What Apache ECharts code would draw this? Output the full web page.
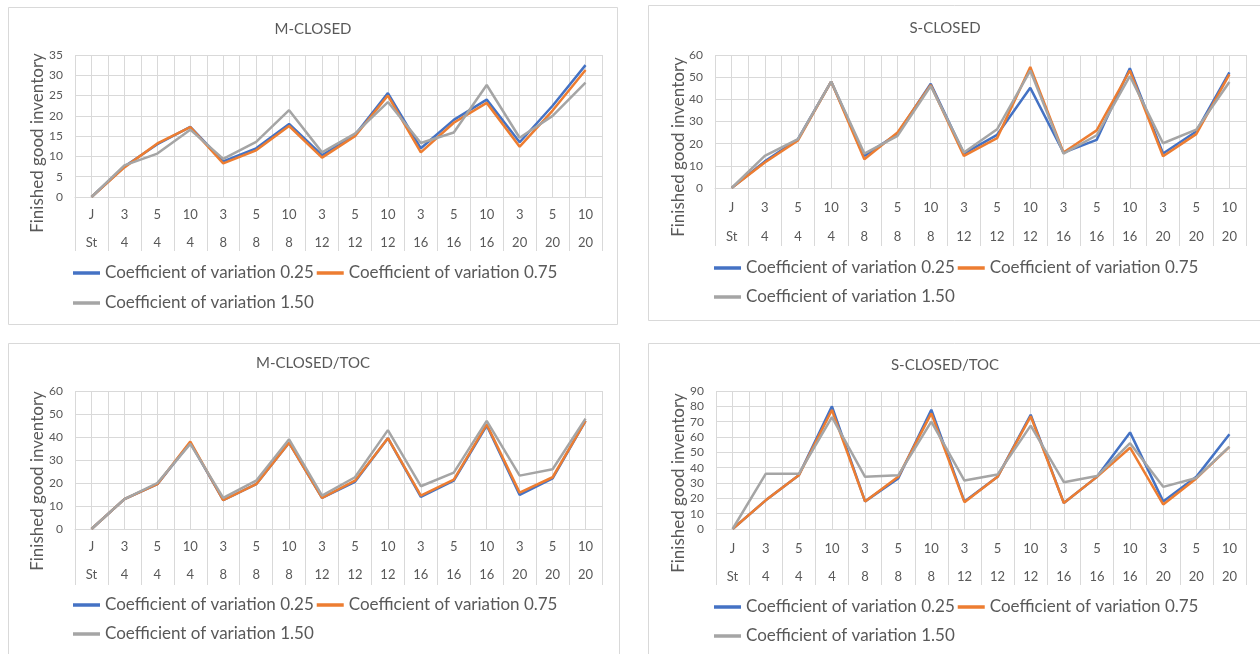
<!DOCTYPE html>
<html>
<head>
<meta charset="utf-8">
<script src="https://cdn.jsdelivr.net/npm/echarts@6/dist/echarts.min.js"></script>
<style>
html,body{margin:0;padding:0;background:#fff;}
#chart{width:1260px;height:654px;}
</style>
</head>
<body>
<div id="chart"></div>
<script>
// ---- data ----
const catTop = ['J','3','5','10','3','5','10','3','5','10','3','5','10','3','5','10'];
const catBottom = ['St','4','4','4','8','8','8','12','12','12','16','16','16','20','20','20'];
const seriesNames = ['Coefficient of variation 0.25','Coefficient of variation 0.75','Coefficient of variation 1.50'];
const panelTitles = ['M-CLOSED','S-CLOSED','M-CLOSED/TOC','S-CLOSED/TOC'];
const yAxisTitle = 'Finished good inventory';

const mClosedCv025 = [0, 7.5, 13, 17.3, 8.8, 12, 18, 10.3, 15.3, 25.6, 12, 19, 24, 13.5, 22.5, 32.5];
const mClosedCv075 = [0, 7.3, 13.2, 17.2, 8.3, 11.5, 17.5, 9.7, 15, 25, 11, 18.3, 23.2, 12.4, 21.3, 31.3];
const mClosedCv150 = [0, 7.8, 10.7, 16.6, 9.4, 13.6, 21.4, 11, 15.6, 23.4, 13.3, 15.9, 27.6, 14.6, 20, 28.2];

const sClosedCv025 = [0, 12, 22, 48, 14.5, 24.5, 47, 15.5, 24, 45.2, 16, 21.7, 54, 15.6, 25.5, 52.2];
const sClosedCv075 = [0, 11.5, 21.5, 48, 13, 25, 46.5, 14.5, 22.5, 54.6, 16, 26, 53, 14.3, 24.3, 51.3];
const sClosedCv150 = [0, 14.5, 22, 48, 15.5, 23.5, 46, 16, 26.5, 53, 15.5, 23.8, 50.5, 20.2, 26.3, 47.8];

const mTocCv025 = [0, 13, 19.5, 37.5, 12.5, 19.5, 37.5, 13.5, 20.5, 39.5, 14, 21, 45, 14.8, 22, 47];
const mTocCv075 = [0, 13, 19.5, 38, 12.5, 19.5, 37.5, 13.5, 21, 39.5, 14.5, 21.5, 45.5, 15.8, 22.5, 47];
const mTocCv150 = [0, 13, 20, 37, 13.5, 21, 39, 14.5, 22.5, 43, 18.6, 24.5, 47, 23.2, 26, 48];

const sTocCv025 = [0, 18.7, 35, 80, 18, 33, 77.8, 18, 34, 74.5, 17, 34, 63, 18, 34, 61.8];
const sTocCv075 = [0, 18.7, 35, 77.6, 18, 34, 75.4, 17.5, 34, 73.5, 17, 34, 53, 16, 33, 53.5];
const sTocCv150 = [0, 36, 36, 73, 34, 35, 70, 31.6, 35.6, 67.4, 30.5, 34.5, 56, 27.5, 33.3, 53.7];

const yMin = [0, 0, 0, 0];
const yMax = [35, 60, 60, 90];
const yStep = [5, 10, 10, 10];

const panelData = [
  [mClosedCv025, mClosedCv075, mClosedCv150],
  [sClosedCv025, sClosedCv075, sClosedCv150],
  [mTocCv025, mTocCv075, mTocCv150],
  [sTocCv025, sTocCv075, sTocCv150]
];

// ---- layout / style ----
const colors = ['#4472C4', '#ED7D31', '#A5A5A5'];
const textColor = '#595959';
const gridColor = '#D9D9D9';
const FONT = 'Lato, "Open Sans", sans-serif';

const panels = [
  {box:[8,7,609,317],   grid:{left:75, top:55, width:527, height:142}, titleX:313, titleY:29, nameX:38, nameY:143, rowGap:28, labelMargin:4, tickLen:54, legendX:73, legendY:[273,303]},
  {box:[648,5,620,315], grid:{left:715, top:55, width:531, height:133}, titleX:945, titleY:28, nameX:679, nameY:147, rowGap:29, labelMargin:5, tickLen:58, legendX:714, legendY:[268,297]},
  {box:[8,343,611,330], grid:{left:75, top:391, width:527, height:138}, titleX:313, titleY:363, nameX:38, nameY:481, rowGap:28, labelMargin:4, tickLen:56, legendX:73, legendY:[605,634]},
  {box:[648,343,620,330], grid:{left:716, top:391, width:530, height:138}, titleX:945, titleY:365, nameX:679, nameY:483, rowGap:28, labelMargin:6, tickLen:56, legendX:714, legendY:[607,636]}
];

const categories = catTop.map((t, i) => t + '\n' + catBottom[i]);

const option = {
  animation: false,
  backgroundColor: '#fff',
  textStyle: {fontFamily: FONT},
  title: [], grid: [], xAxis: [], yAxis: [], series: [], legend: [], graphic: []
};

panels.forEach((p, k) => {
  option.grid.push(Object.assign({containLabel:false}, p.grid));
  option.title.push({
    text: panelTitles[k], left: p.titleX, top: p.titleY - 10, textAlign: 'center', padding: 0,
    textStyle: {fontFamily: FONT, fontSize: 15, fontWeight: 'normal', color: textColor, lineHeight: 20}
  });
  // category axis (two-row labels, table dividers as ticks)
  option.xAxis.push({
    type: 'category', gridIndex: k, data: categories, boundaryGap: true,
    axisLine: {show: true, lineStyle: {color: gridColor, width: 1}},
    axisTick: {show: true, interval: 0, length: p.tickLen, lineStyle: {color: gridColor, width: 1}},
    axisLabel: {interval: 0, margin: p.labelMargin, color: textColor, fontSize: 13, fontFamily: FONT, lineHeight: p.rowGap},
    splitLine: {show: false}
  });
  // hidden value axis for major + minor vertical gridlines
  option.xAxis.push({
    type: 'value', gridIndex: k, min: 0, max: categories.length * 2, interval: 1,
    axisLine: {show: false}, axisTick: {show: false}, axisLabel: {show: false},
    splitLine: {show: true, lineStyle: {color: gridColor, width: 1}}
  });
  option.yAxis.push({
    type: 'value', gridIndex: k, min: yMin[k], max: yMax[k], interval: yStep[k],
    axisLine: {show: false}, axisTick: {show: false},
    axisLabel: {margin: 12, color: textColor, fontSize: 12, fontFamily: FONT},
    splitLine: {show: true, lineStyle: {color: gridColor, width: 1}}
  });
  panelData[k].forEach((arr, j) => {
    option.series.push({
      type: 'line', name: seriesNames[j], xAxisIndex: k * 2, yAxisIndex: k,
      data: arr, symbol: 'none', smooth: false,
      lineStyle: {color: colors[j], width: 2.5}, itemStyle: {color: colors[j]}, z: 2 + j
    });
  });
  const legendCommon = {
    orient: 'horizontal', left: p.legendX, padding: 0, itemGap: 3,
    icon: 'rect', itemWidth: 27, itemHeight: 3.5, selectedMode: false,
    textStyle: {fontFamily: FONT, fontSize: 17, color: textColor, lineHeight: 20}
  };
  option.legend.push(Object.assign({}, legendCommon, {top: p.legendY[0] - 10, data: [seriesNames[0], seriesNames[1]]}));
  option.legend.push(Object.assign({}, legendCommon, {top: p.legendY[1] - 10, data: [seriesNames[2]]}));
  option.graphic.push({
    type: 'rect', silent: true, z: -1,
    shape: {x: p.box[0] + 0.5, y: p.box[1] + 0.5, width: p.box[2], height: p.box[3]},
    style: {fill: 'none', stroke: gridColor, lineWidth: 1}
  });
  option.graphic.push({
    type: 'text', silent: true, x: p.nameX, y: p.nameY, rotation: Math.PI / 2,
    style: {text: yAxisTitle, fontFamily: FONT, fontSize: 17, fill: textColor, align: 'center', verticalAlign: 'middle'}
  });
});

const chart = echarts.init(document.getElementById('chart'), null, {renderer: 'canvas'});
chart.setOption(option);
</script>
</body>
</html>
